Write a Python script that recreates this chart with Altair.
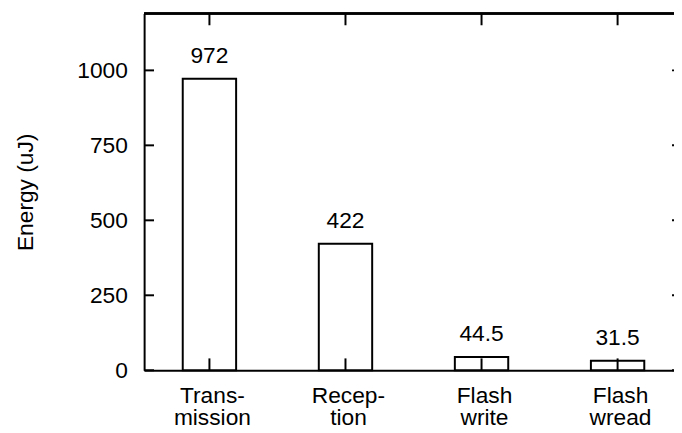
import altair as alt
import pandas as pd

# ---- data ----
categories = ["Trans-\nmission", "Recep-\ntion", "Flash\nwrite", "Flash\nwread"]
energy = [972, 422, 44.5, 31.5]
y_ticks = [0, 250, 500, 750, 1000]
y_title = "Energy (uJ)"

df = pd.DataFrame({"cat": categories, "energy": energy,
                   "label": [f"{v:g}" for v in energy]})
tick_df = pd.DataFrame({"v": y_ticks})

W, H = 536, 361
FONT = "Liberation Sans"
FS = 23

x_scale = alt.Scale(domain=categories, range=[0, 545], paddingInner=0.6, paddingOuter=0.28)
y_scale = alt.Scale(domain=[0, 1190], nice=False, zero=True)

x_axis = alt.Axis(title=None, ticks=False, tickSize=0, grid=False,
                  labelExpr="split(datum.label, '\\n')", labelLineHeight=22,
                  labelPadding=15, labelOffset=3, labelAngle=0,
                  labelFontSize=FS, labelColor="black",
                  domainColor="black", domainWidth=2)
y_axis = alt.Axis(title=y_title, values=y_ticks, format="d", ticks=False, tickSize=0, grid=False,
                  labelPadding=17, labelFontSize=FS, labelColor="black",
                  domainColor="black", domainWidth=2,
                  titleFontSize=FS, titleFontWeight="normal", titleColor="black",
                  titleAngle=270, titleX=-120, titleY=H / 2, titleAlign="center",
                  titleBaseline="middle")

X = alt.X("cat:N", sort=categories, scale=x_scale, axis=x_axis)
Y = alt.Y("energy:Q", scale=y_scale, axis=y_axis)
YT = alt.Y("v:Q", scale=y_scale, axis=y_axis)

bars = alt.Chart(df).mark_bar(width=54, fill="white", stroke="black", strokeWidth=2).encode(x=X, y=Y)
texts = alt.Chart(df).mark_text(dy=-16, fontSize=FS, font=FONT, baseline="alphabetic",
                                align="center", color="black").encode(x=X, y=Y, text="label:N")
bottom_ticks = alt.Chart(df).mark_rule(color="black", strokeWidth=2).encode(
    x=X, y=alt.value(H - 12), y2=alt.value(H))
top_ticks = alt.Chart(df).mark_rule(color="black", strokeWidth=2).encode(
    x=X, y=alt.value(0), y2=alt.value(12))
left_ticks = alt.Chart(tick_df).mark_rule(color="black", strokeWidth=2).encode(
    y=YT, x=alt.value(0), x2=alt.value(10))
right_ticks = alt.Chart(tick_df).mark_rule(color="black", strokeWidth=2).encode(
    y=YT, x=alt.value(W - 2), x2=alt.value(W))
top_border = alt.Chart(df).mark_rule(color="black", strokeWidth=2).encode(
    y=alt.value(0), x=alt.value(0), x2=alt.value(W))

chart = alt.layer(bars, texts, bottom_ticks, top_ticks, left_ticks, right_ticks, top_border).properties(
    width=W, height=H,
    padding={"left": 137.7, "top": 3, "right": 0, "bottom": 61},
    autosize=alt.AutoSizeParams(type="none"),
    background="white",
).configure(font=FONT).configure_view(strokeWidth=0).configure_axis(
    labelFont=FONT, titleFont=FONT)

chart.save("out.html", embed_options={"renderer": "svg", "actions": False})
